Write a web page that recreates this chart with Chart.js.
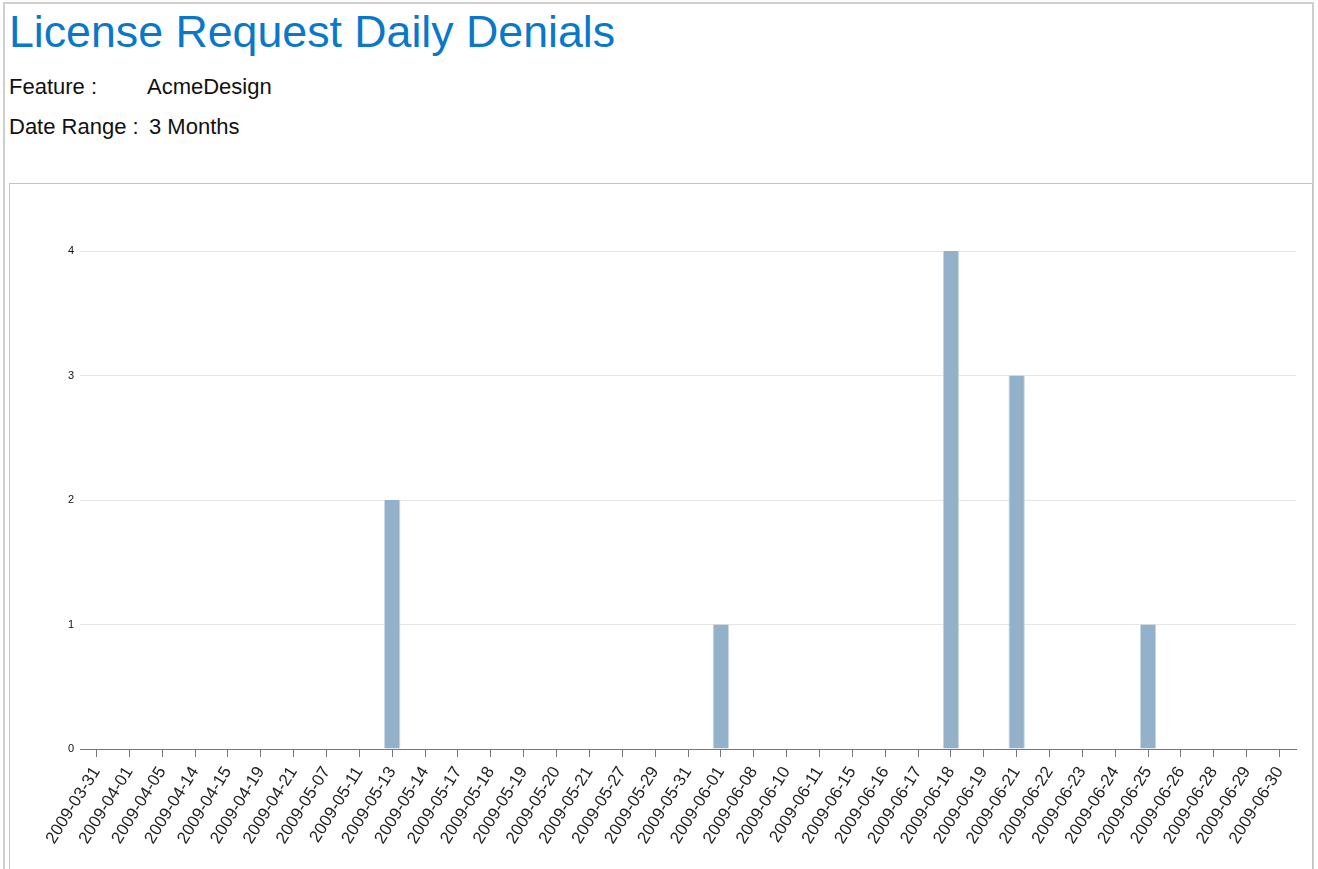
<!DOCTYPE html>
<html>
<head>
<meta charset="utf-8">
<script src="https://cdn.jsdelivr.net/npm/chart.js@4"></script>
<style>
	html, body { margin: 0; padding: 0; background: #fff; overflow: hidden; }
	body { font-family: Arial, "Liberation Sans", sans-serif; width: 1318px; height: 869px; position: relative; }
	#page { position: absolute; left: 3px; top: 2px; width: 1307px; height: 900px; border: 2px solid #cfcfcf; }
	#title { position: absolute; left: 4px; top: 3px; margin: 0; font-size: 44.7px; font-weight: normal; color: #0a78c9; white-space: nowrap; }
	.info { position: absolute; left: 4px; font-size: 22px; color: #111; white-space: nowrap; }
	.info span { position: absolute; white-space: nowrap; }
	#chartBox { position: absolute; left: 4px; top: 179px; width: 1302px; height: 720px; border: 1px solid #c4c4c4; background: #fff; }
	#chartBox canvas { position: absolute; left: 0; top: 0; }
</style>
</head>
<body>
<div id="page">
	<h1 id="title">License Request Daily Denials</h1>
	<div class="info" style="top:70px;">Feature :<span style="left:138px;top:0;">AcmeDesign</span></div>
	<div class="info" style="top:110px;">Date Range :<span style="left:140px;top:0;">3 Months</span></div>
	<div id="chartBox"><canvas id="graph_denials" width="1300" height="686"></canvas></div>
</div>
<script>
// x축 : 날짜
const dates = [
	"2009-03-31", "2009-04-01", "2009-04-05", "2009-04-14", "2009-04-15", "2009-04-19",
	"2009-04-21", "2009-05-07", "2009-05-11", "2009-05-13", "2009-05-14", "2009-05-17",
	"2009-05-18", "2009-05-19", "2009-05-20", "2009-05-21", "2009-05-27", "2009-05-29",
	"2009-05-31", "2009-06-01", "2009-06-08", "2009-06-10", "2009-06-11", "2009-06-15",
	"2009-06-16", "2009-06-17", "2009-06-18", "2009-06-19", "2009-06-21", "2009-06-22",
	"2009-06-23", "2009-06-24", "2009-06-25", "2009-06-26", "2009-06-28", "2009-06-29",
	"2009-06-30"
];

// y축 : 거부 횟수
const denials = [
	0, 0, 0, 0, 0, 0,
	0, 0, 0, 2, 0, 0,
	0, 0, 0, 0, 0, 0,
	0, 1, 0, 0, 0, 0,
	0, 0, 4, 0, 3, 0,
	0, 0, 1, 0, 0, 0,
	0
];

const yTicks = [0, 1, 2, 3, 4];

document.addEventListener("DOMContentLoaded", function() {
	drawDenials();
});

function drawDenials() {
	let ctx = document.getElementById('graph_denials').getContext('2d');
	let denialChart = new Chart(ctx, {
		type: 'bar',
		data: {
			labels: dates,
			datasets: [{
				label: 'Denials',
				data: denials,
				backgroundColor: '#93b2ca',
				borderColor: '#c9d9e5',
				borderWidth: { left: 1, right: 1, top: 0, bottom: 0 },
				barPercentage: 0.5,
				categoryPercentage: 1.0
			}]
		},
		options: {
			responsive: false,
			animation: false,
			layout: {
				padding: { top: 67, right: 14, left: 0, bottom: 0 }
			},
			scales: {
				x: {
					offset: true,
					grid: {
						display: true,
						offset: false,
						drawOnChartArea: false,
						drawTicks: true,
						tickLength: 8,
						color: '#777'
					},
					border: { display: true, color: '#777', width: 1 },
					ticks: {
						autoSkip: false,
						minRotation: 58,
						maxRotation: 58,
						padding: 6,
						color: '#222',
						font: { family: 'Arial, "Liberation Sans"', size: 17 }
					},
					afterFit: function(scale) { scale.height = 121; }
				},
				y: {
					min: 0,
					max: 4,
					afterBuildTicks: function(scale) {
						scale.ticks = yTicks.map(function(v) { return { value: v }; });
					},
					grid: {
						color: '#e6e6e6',
						drawTicks: false
					},
					border: { display: false },
					ticks: {
						padding: 6,
						color: '#111',
						font: { family: 'Arial, "Liberation Sans"', size: 11 }
					},
					afterFit: function(scale) { scale.width = 70; }
				}
			},
			plugins: {
				legend: { display: false },
				tooltip: { enabled: false }
			}
		}
	});
}
</script>
</body>
</html>
